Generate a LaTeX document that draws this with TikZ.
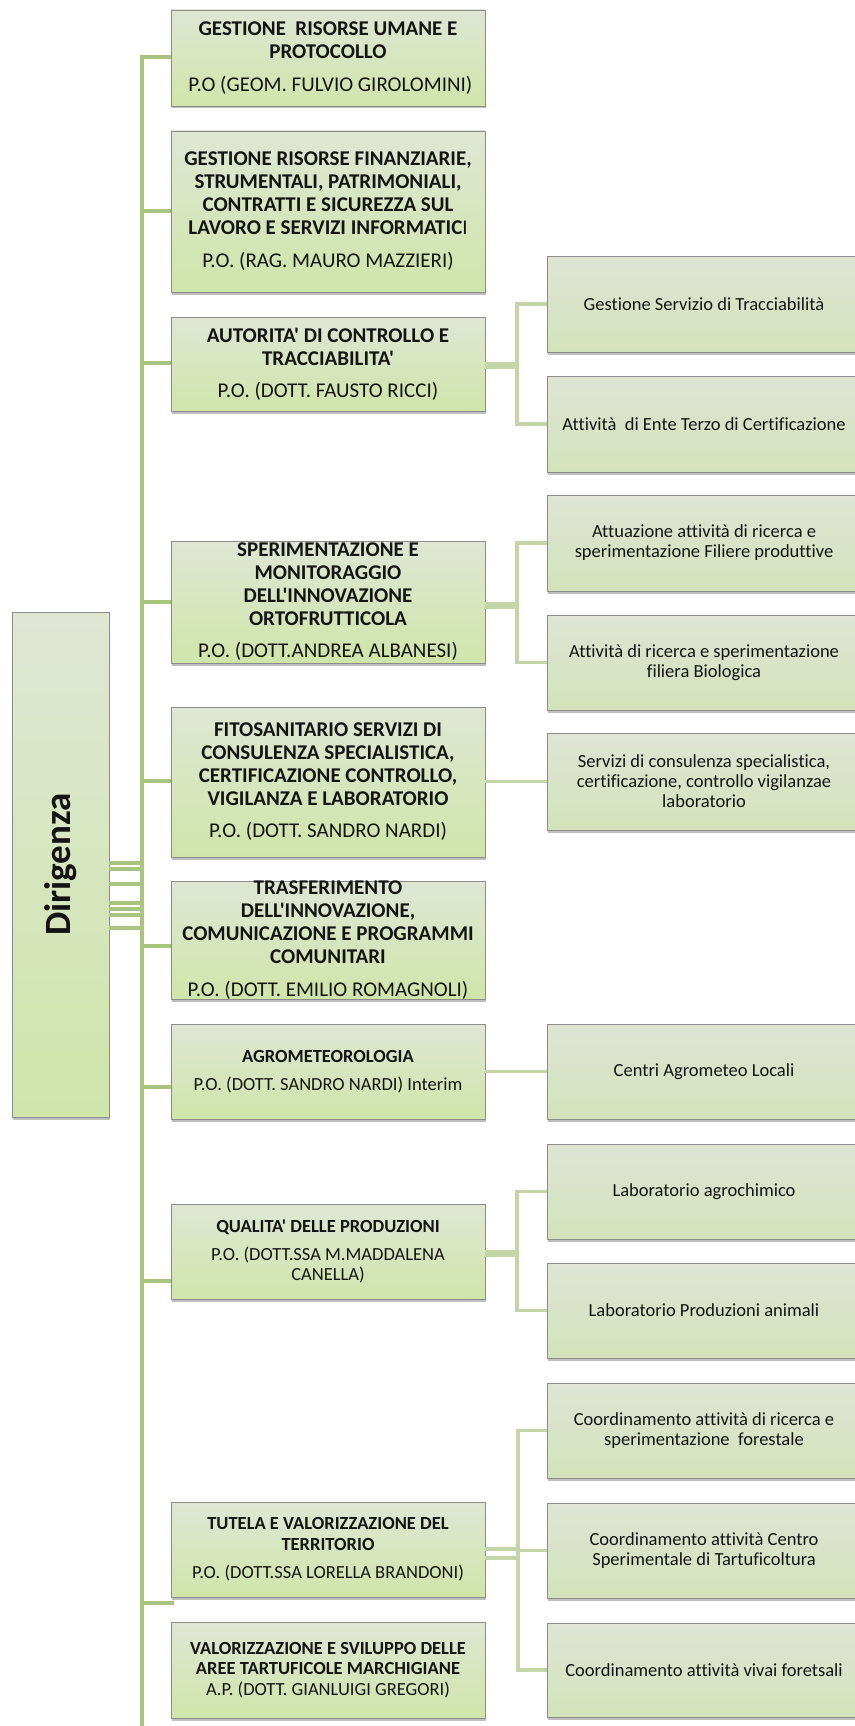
\documentclass[tikz,border=0pt]{standalone}
\usepackage{fontspec}
\newfontfamily\carl{Carlito}[Ligatures={NoCommon,NoContextual}]
\usetikzlibrary{shadows}
\definecolor{trunkc}{RGB}{169,196,127}
\definecolor{subc}{RGB}{196,214,168}
\definecolor{boxc}{RGB}{140,140,140}
\definecolor{ltop}{RGB}{223,230,212}
\definecolor{lbot}{RGB}{208,229,170}
\definecolor{stop}{RGB}{223,228,212}
\definecolor{sbot}{RGB}{212,226,186}
\definecolor{txtc}{RGB}{20,20,20}
\newcommand\B[1]{\textbf{#1}}
\begin{document}
\begin{tikzpicture}[x=1pt,y=-1pt,
  shadowed/.style={drop shadow={shadow xshift=1pt,shadow yshift=-2.5pt,opacity=0.25,fill=black}},
  lbox/.style={draw=boxc,line width=0.8pt,top color=ltop,bottom color=lbot,minimum width=314pt,inner sep=0pt,shadowed},
  sbox/.style={draw=boxc,line width=0.8pt,top color=stop,bottom color=sbot,minimum width=314pt,inner sep=0pt,shadowed},
  bigtxt/.style={align=center,inner sep=0pt,text=txtc,font=\carl\fontsize{21}{23}\selectfont},
  midtxt/.style={align=center,inner sep=0pt,text=txtc,font=\carl\fontsize{18.5}{20.5}\selectfont},
  subtxt/.style={align=center,inner sep=0pt,text=txtc,font=\carl\fontsize{18.5}{20}\selectfont},
  trunk/.style={draw=trunkc,line width=4.5pt},
  subl/.style={draw=subc,line width=3.5pt},
  subthick/.style={draw=subc,line width=7pt}]
\useasboundingbox (0,0) rectangle (854,1726);

% ---- trunk coordinates
\coordinate (tt) at (142,55);
\coordinate (tb) at (142,1730);
\coordinate (t1) at (142,57);
\coordinate (t2) at (142,211);
\coordinate (t3) at (142,363);
\coordinate (t4) at (142,602);
\coordinate (t5) at (142,781);
\coordinate (t6) at (142,946);
\coordinate (t7) at (142,1087);
\coordinate (t8) at (142,1281);
\coordinate (t9) at (142,1603);

% ---- Dirigenza
\node[lbox,minimum width=97pt,minimum height=505pt] (dir) at (60.5,864.5) {};
\node[rotate=90,inner sep=0pt,text=txtc,font=\carl\bfseries\fontsize{37}{40}\selectfont] (dirt) at (dir.center) {Dirigenza};

% ---- left boxes
\node[lbox,minimum height=96pt] (b1) at (328,58) {};
\node[bigtxt] (b1t) at (b1.center) {\B{GESTIONE\ \ RISORSE UMANE E}\\\B{PROTOCOLLO}\\[10pt]\ P.O (GEOM. FULVIO GIROLOMINI)};

\node[lbox,minimum height=161pt] (b2) at (328,211.5) {};
\node[bigtxt] (b2t) at (b2.center) {\B{GESTIONE RISORSE FINANZIARIE,}\\\B{STRUMENTALI, PATRIMONIALI,}\\\B{CONTRATTI E SICUREZZA SUL}\\\B{LAVORO E SERVIZI INFORMATIC}I\\[10pt]P.O. (RAG. MAURO MAZZIERI)};

\node[lbox,minimum height=94pt] (b3) at (328,364) {};
\node[bigtxt] (b3t) at (b3.center) {\B{AUTORITA' DI CONTROLLO E}\\\B{TRACCIABILITA'}\\[9pt]P.O. (DOTT. FAUSTO RICCI)};

\node[lbox,minimum height=122pt] (b4) at (328,602) {};
\node[bigtxt] (b4t) at (b4.center) {\B{SPERIMENTAZIONE E}\\\B{MONITORAGGIO}\\\B{DELL'INNOVAZIONE}\\\B{ORTOFRUTTICOLA}\\[9pt]P.O. (DOTT.ANDREA ALBANESI)};

\node[lbox,minimum height=150pt] (b5) at (328,782) {};
\node[bigtxt] (b5t) at (b5.center) {\B{FITOSANITARIO SERVIZI DI}\\\B{CONSULENZA SPECIALISTICA,}\\\B{CERTIFICAZIONE CONTROLLO,}\\\B{VIGILANZA E LABORATORIO}\\[9pt]P.O. (DOTT. SANDRO NARDI)};

\node[lbox,minimum height=118pt] (b6) at (328,940) {};
\node[bigtxt] (b6t) at (b6.center) {\B{TRASFERIMENTO}\\\B{DELL'INNOVAZIONE,}\\\B{COMUNICAZIONE E PROGRAMMI}\\\B{COMUNITARI}\\[10pt]P.O. (DOTT. EMILIO ROMAGNOLI)};

\node[lbox,minimum height=95pt] (b7) at (328,1071.5) {};
\node[midtxt] (b7t) at (b7.center) {\B{AGROMETEOROLOGIA}\\[8pt]P.O. (DOTT. SANDRO NARDI) Interim};

\node[lbox,minimum height=95pt] (b8) at (328,1251.5) {};
\node[midtxt] (b8t) at (b8.center) {\B{QUALITA' DELLE PRODUZIONI}\\[7pt]P.O. (DOTT.SSA M.MADDALENA\\CANELLA)};

\node[lbox,minimum height=95pt] (b9) at (328,1549.5) {};
\node[midtxt] (b9t) at (b9.center) {\B{TUTELA E VALORIZZAZIONE DEL}\\\B{TERRITORIO}\\[8pt]P.O. (DOTT.SSA LORELLA BRANDONI)};

\node[lbox,minimum height=96pt] (b10) at (328,1670) {};
\node[midtxt] (b10t) at (b10.center) {\B{VALORIZZAZIONE E SVILUPPO DELLE}\\\B{AREE TARTUFICOLE MARCHIGIANE}\\A.P. (DOTT. GIANLUIGI GREGORI)};

% ---- sub boxes
\node[sbox,minimum height=96pt] (s1) at (704,304) {};
\node[subtxt] (s1t) at (s1.center) {Gestione Servizio di Tracciabilità};
\node[sbox,minimum height=96pt] (s2) at (704,424) {};
\node[subtxt] (s2t) at (s2.center) {Attività\ \ di Ente Terzo di Certificazione};
\node[sbox,minimum height=96pt] (s3) at (704,543) {};
\node[subtxt] (s3t) at (s3.center) {Attuazione attività di ricerca e\\sperimentazione Filiere produttive};
\node[sbox,minimum height=95pt] (s4) at (704,662.5) {};
\node[subtxt] (s4t) at (s4.center) {Attività di ricerca e sperimentazione\\filiera Biologica};
\node[sbox,minimum height=97pt] (s5) at (704,781.5) {};
\node[subtxt] (s5t) at (s5.center) {Servizi di consulenza specialistica,\\certificazione, controllo vigilanzae\\laboratorio};
\node[sbox,minimum height=95pt] (s6) at (704,1071.5) {};
\node[subtxt] (s6t) at (s6.center) {Centri Agrometeo Locali};
\node[sbox,minimum height=95pt] (s7) at (704,1191.5) {};
\node[subtxt] (s7t) at (s7.center) {Laboratorio agrochimico};
\node[sbox,minimum height=95pt] (s8) at (704,1310.5) {};
\node[subtxt] (s8t) at (s8.center) {Laboratorio Produzioni animali};
\node[sbox,minimum height=95pt] (s9) at (704,1430.5) {};
\node[subtxt] (s9t) at (s9.center) {Coordinamento attività di ricerca e\\sperimentazione\ \ forestale};
\node[sbox,minimum height=95pt] (s10) at (704,1550.5) {};
\node[subtxt] (s10t) at (s10.center) {Coordinamento attività Centro\\Sperimentale di Tartuficoltura};
\node[sbox,minimum height=94pt] (s11) at (704,1670) {};
\node[subtxt] (s11t) at (s11.center) {Coordinamento attività vivai foretsali};

% ---- trunk and branches
\draw[trunk] (t1 -| b1.west) -- (t1) -- (tb);
\foreach \i in {2,...,8} {\draw[trunk] (t\i) -- (t\i -| b\i.west);}
\draw[trunk] (t9) -- ([xshift=3pt]t9 -| b9.west);

% ---- Dirigenza connectors
\foreach \y [count=\k] in {863,869,884,903,909,915,928} {
  \coordinate (d\k) at (142,\y);
  \draw[trunk,line width=4pt] (d\k -| dir.east) -- (d\k);
}

% ---- sub connectors
\coordinate (j3) at (517,365);
\draw[subthick] (j3 -| b3.east) -- (j3);
\draw[subl] (s1.west) -| (j3) |- (s2.west);
\coordinate (j4) at (517,605);
\draw[subthick] (j4 -| b4.east) -- (j4);
\draw[subl] (s3.west) -| (j4) |- (s4.west);
\draw[subl] (b5.east |- s5.west) -- (s5.west);
\draw[subl] (b7.east |- s6.west) -- (s6.west);
\coordinate (j8) at (517,1253);
\draw[subthick] (j8 -| b8.east) -- (j8);
\draw[subl] (s7.west) -| (j8) |- (s8.west);
\coordinate (j9) at (518,1549);
\coordinate (j9b) at (518,1558);
\draw[subl] (j9 -| b9.east) -- (j9);
\draw[subl] (j9b -| b9.east) -- (j9b);
\draw[subl] (s9.west) -| (j9) |- (s11.west);
\draw[subl] (j9 |- s10.west) -- (s10.west);
\end{tikzpicture}
\end{document}
